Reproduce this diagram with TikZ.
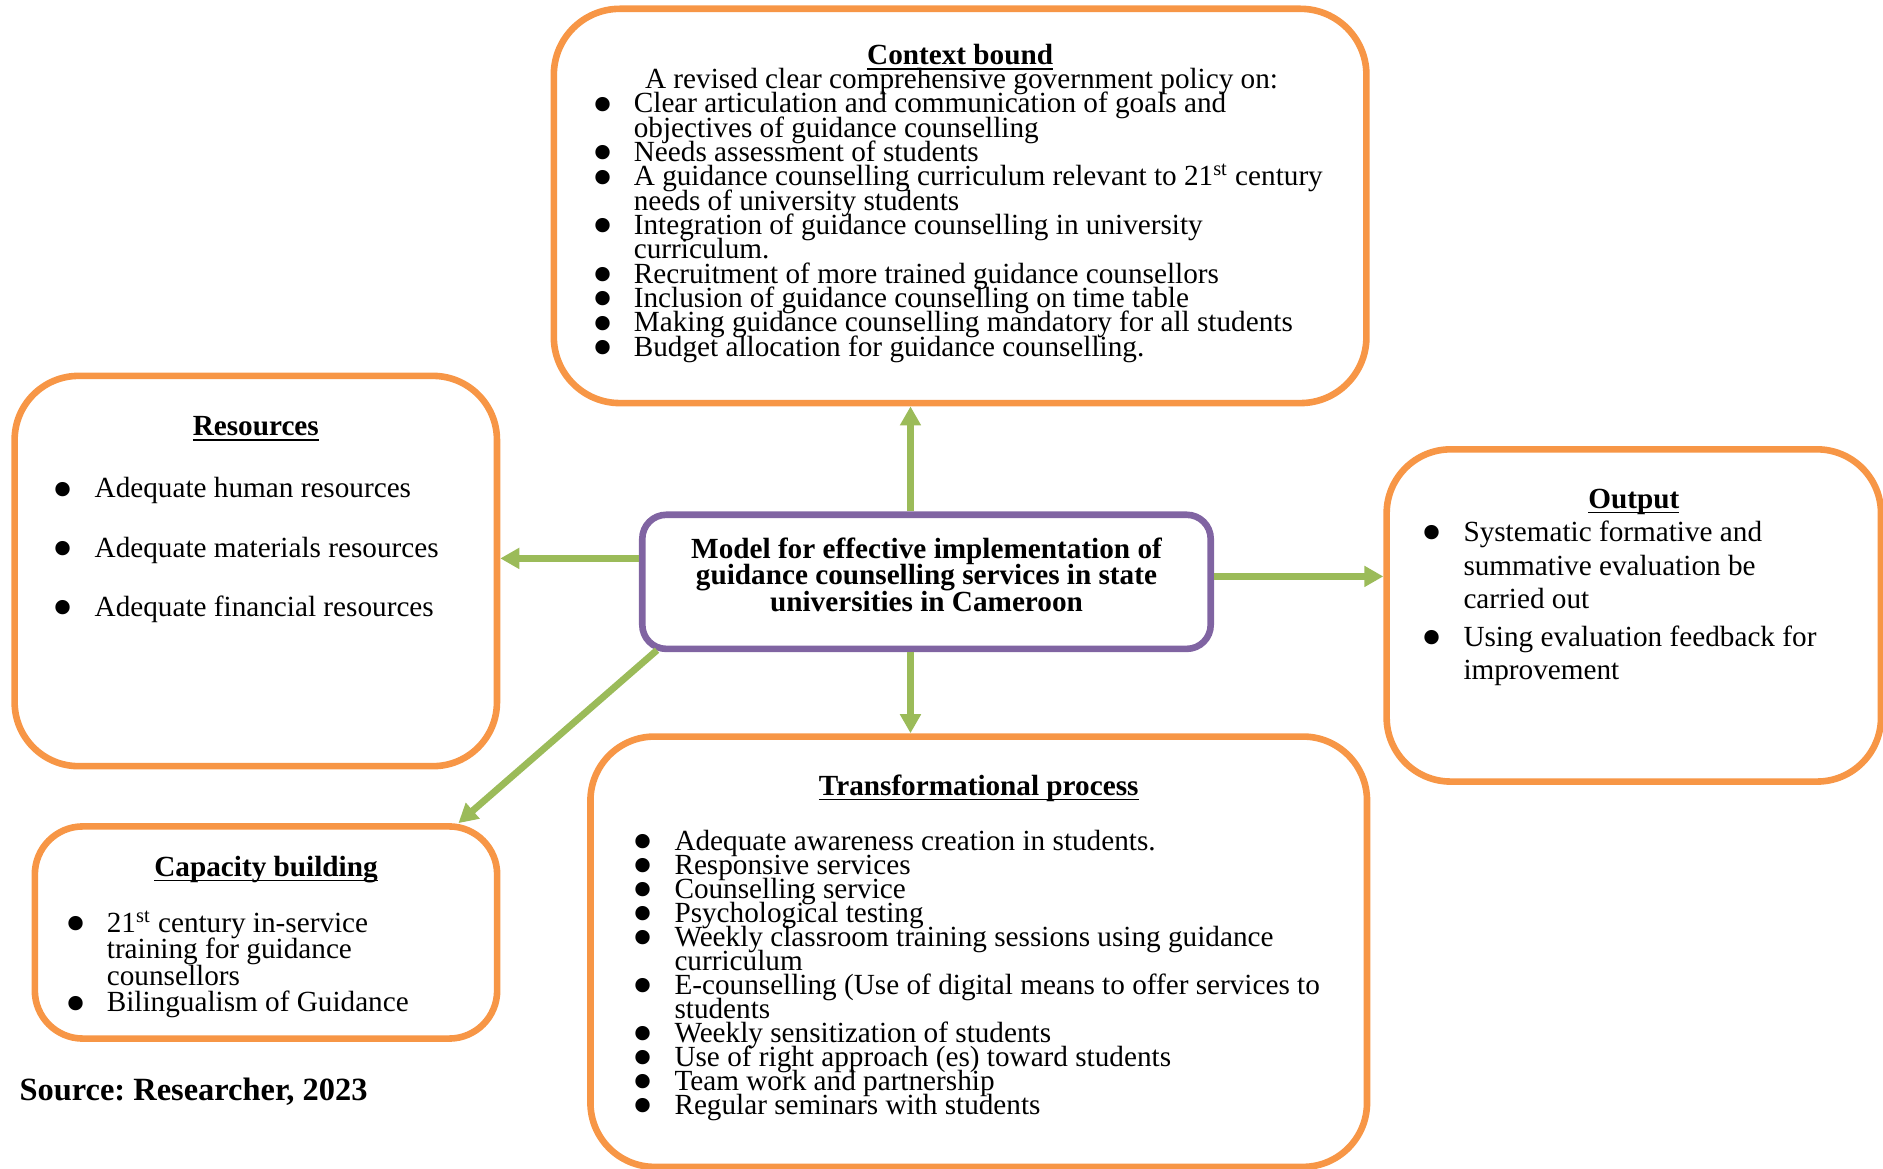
\documentclass[tikz,border=0pt]{standalone}
\usepackage{fontspec}
\setmainfont{Liberation Serif}
\usepackage{enumitem}
\usepackage{tikz}
\usetikzlibrary{shapes.geometric, arrows.meta, positioning}
\definecolor{boxorange}{RGB}{247,150,70}
\definecolor{modelpurple}{RGB}{128,100,162}
\definecolor{leafgreen}{RGB}{155,187,89}
\frenchspacing
\newcommand{\tightlines}{\lineskiplimit=-50pt\relax}
\newcommand{\bigbullet}{\makebox[0pt]{\raisebox{-5.6pt}{\fontsize{30}{30}\selectfont\textbullet}}}
\tikzstyle{block} = [rectangle, rounded corners=32pt, draw=boxorange, line width=3.3pt, fill=white, inner sep=0pt]
\tikzstyle{modelbox} = [rectangle, rounded corners=12pt, draw=modelpurple, line width=3.3pt, fill=white, inner sep=0pt]
\tikzstyle{arrow} = [line width=3.4pt, draw=leafgreen, -{Triangle[width=10pt,length=9.5pt]}]
\setlist[itemize]{label=\bigbullet, topsep=0pt, partopsep=0pt, itemsep=0pt, parsep=0pt, itemindent=0pt}
\newcommand{\boxhead}[1]{{\centering\bfseries\setbox0\hbox{#1}\leavevmode\rlap{\rule[-2.6pt]{\wd0}{0.9pt}}\box0\par}}
\newcommand{\boxtext}[4]{\parbox[c][#2][t]{#1}{\raggedright\tightlines\fontsize{14.6}{#3}\selectfont #4}}

\begin{document}
\begin{tikzpicture}[x=0.6pt, y=-0.6pt]
\useasboundingbox (0,0) rectangle (1568,973);
\node (ctx) [block, rounded corners=33pt] at (799.5,171.5) {\boxtext{406pt}{197pt}{12.15pt}{\vspace*{17.6pt}
\boxhead{Context bound}
\hspace*{45.6pt}A revised clear comprehensive government policy on:
\begin{itemize}[leftmargin=40pt, labelwidth=24.6pt, labelsep=15.4pt]
\item Clear articulation and communication of goals and\\ objectives of guidance counselling
\item Needs assessment of students
\item A guidance counselling curriculum relevant to 21\textsuperscript{st} century\\ needs of university students
\item Integration of guidance counselling in university\\ curriculum.
\item Recruitment of more trained guidance counsellors
\item Inclusion of guidance counselling on time table
\item Making guidance counselling mandatory for all students
\item Budget allocation for guidance counselling.
\end{itemize}}};
\node (res) [block] at (213,475.5) {\boxtext{241pt}{195pt}{12pt}{\vspace*{20.2pt}
\boxhead{Resources}
\begin{itemize}[leftmargin=40pt, labelwidth=24pt, labelsep=16pt, topsep=19.2pt, itemsep=17.7pt]
\item Adequate human resources
\item Adequate materials resources
\item Adequate financial resources
\end{itemize}}};
\node (model) [modelbox] at (771.5,484.5) {\parbox[c][67pt][t]{284pt}{\centering\bfseries\tightlines\fontsize{14.6}{13.2}\selectfont\vspace*{11.6pt}
Model for effective implementation of\\ guidance counselling services in state\\ universities in Cameroon}};
\node (out) [block] at (1360.5,512.5) {\boxtext{247pt}{166pt}{16.8pt}{\vspace*{19.7pt}
\boxhead{Output}
\begin{itemize}[leftmargin=38.4pt, labelwidth=22.8pt, labelsep=15.6pt, itemsep=1.8pt]
\item Systematic formative and\\ summative evaluation be\\ carried out
\item Using evaluation feedback for\\ improvement
\end{itemize}}};
\node (trans) [block] at (815,792.5) {\boxtext{388pt}{215pt}{12pt}{\vspace*{19pt}
\boxhead{Transformational process}
\begin{itemize}[leftmargin=42pt, labelwidth=26.4pt, labelsep=15.6pt, topsep=15.6pt]
\item Adequate awareness creation in students.
\item Responsive services
\item Counselling service
\item Psychological testing
\item Weekly classroom training sessions using guidance\\ curriculum
\item E-counselling (Use of digital means to offer services to\\ students
\item Weekly sensitization of students
\item Use of right approach (es) toward students
\item Team work and partnership
\item Regular seminars with students
\end{itemize}}};
\node (cap) [block, rounded corners=24pt] at (221.5,776.5) {\boxtext{231pt}{106pt}{13.2pt}{\vspace*{14.7pt}
\boxhead{Capacity building}
\begin{itemize}[leftmargin=36pt, labelwidth=20.4pt, labelsep=15.6pt, topsep=15pt]
\item 21\textsuperscript{st} century in-service\\ training for guidance\\ counsellors
\item Bilingualism of Guidance
\end{itemize}}};
\node (src) [anchor=west, inner sep=0pt, font=\fontsize{16.2}{18}\selectfont\bfseries] at (16,909) {Source: Researcher, 2023};
% connectors from the model
\draw[arrow] ([xshift=-8pt]model.north) -- ([xshift=-8pt]model.north |- ctx.south);
\draw[arrow] ([xshift=-8pt]model.south) -- ([xshift=-8pt]model.south |- trans.north);
\draw[arrow] ([yshift=11.7pt]model.west) -- ([yshift=11.7pt]model.west -| res.east);
\draw[arrow] ([yshift=2.7pt]model.east) -- ([yshift=2.7pt]model.east -| out.west);
\draw[arrow] ([xshift=9pt,yshift=1pt]model.south west) -- ([xshift=-21pt]cap.north east);
\end{tikzpicture}
\end{document}
